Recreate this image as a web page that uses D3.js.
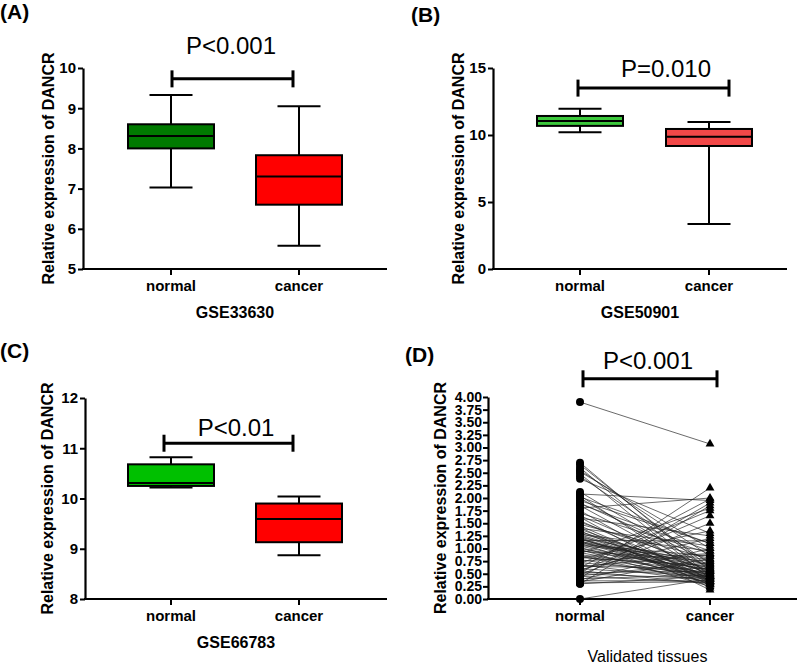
<!DOCTYPE html>
<html><head><meta charset="utf-8">
<script src="https://cdn.jsdelivr.net/npm/d3@7"></script>
<style>
body{margin:0;background:#fff}
svg{display:block}
text{font-family:"Liberation Sans",Arial,Helvetica,sans-serif;fill:#000}
</style>
</head><body>
<svg id="chart" width="800" height="665"></svg>
<script>
// ---------------- DATA ----------------
const categories = ["normal", "cancer"];
// box stats: [whiskerLow, q1, median, q3, whiskerHigh]
const boxA = [[7.03, 8.00, 8.31, 8.60, 9.33], [5.58, 6.60, 7.30, 7.83, 9.05]];
const boxB = [[10.20, 10.68, 11.04, 11.42, 11.95], [3.35, 9.18, 9.87, 10.45, 10.97]];
const boxC = [[10.22, 10.25, 10.31, 10.68, 10.82], [8.87, 9.13, 9.59, 9.90, 10.04]];
const ticksA = [5, 6, 7, 8, 9, 10];
const ticksB = [0, 5, 10, 15];
const ticksC = [8, 9, 10, 11, 12];
const ticksD = [0, 0.25, 0.5, 0.75, 1, 1.25, 1.5, 1.75, 2, 2.25, 2.5, 2.75, 3, 3.25, 3.5, 3.75, 4];
const panelLetters = ["(A)", "(B)", "(C)", "(D)"];
const pLabels = ["P<0.001", "P=0.010", "P<0.01", "P<0.001"];
const sigLevels = [9.73, 13.5, 11.1, 4.36];
const datasetLabels = ["GSE33630", "GSE50901", "GSE66783", "Validated tissues"];
const yTitle = "Relative expression of DANCR";
// paired validated tissues (normal -> cancer)
const pairedNormal = [3.90, 2.70, 2.66, 2.60, 2.55, 2.52, 2.48, 2.43, 2.38, 2.12,
  2.08, 2.05, 2.00, 1.95, 1.90, 1.85, 1.80, 1.75, 1.70, 1.65,
  1.60, 1.55, 1.52, 1.48, 1.45, 1.40, 1.38, 1.35, 1.30, 1.28,
  1.25, 1.22, 1.20, 1.18, 1.16, 1.15, 1.12, 1.10, 1.08, 1.05,
  1.02, 1.00, 0.98, 0.95, 0.92, 0.90, 0.88, 0.85, 0.82, 0.80,
  0.78, 0.75, 0.72, 0.70, 0.68, 0.65, 0.62, 0.60, 0.58, 0.56,
  0.55, 0.52, 0.50, 0.50, 0.48, 0.46, 0.45, 0.42, 0.40, 0.38,
  0.36, 0.34, 0.32, 0.30, 0.30, 0.00, 1.42, 1.62, 2.02, 1.27,
  1.14, 0.96, 1.88, 0.86, 1.06, 1.21, 1.13, 0.64, 1.33, 1.19];
const pairedCancer = [3.07, 0.55, 0.62, 0.45, 0.85, 1.00, 0.40, 0.70, 1.30, 0.60,
  1.95, 0.35, 0.50, 1.10, 0.75, 0.45, 2.00, 0.30, 0.90, 0.55,
  1.25, 0.40, 0.65, 0.80, 0.35, 1.05, 0.50, 0.28, 0.60, 0.95,
  0.45, 0.70, 0.38, 0.55, 1.15, 0.42, 0.62, 0.30, 0.85, 0.48,
  0.36, 0.58, 0.25, 0.75, 0.44, 1.80, 0.52, 0.33, 0.66, 1.35,
  0.40, 0.90, 0.50, 1.75, 0.35, 0.60, 1.98, 0.45, 1.20, 0.30,
  1.65, 0.55, 2.20, 0.40, 1.50, 0.72, 0.32, 1.90, 0.48, 1.00,
  0.36, 0.80, 0.34, 1.85, 0.45, 0.40, 0.18, 0.22, 1.10, 0.52,
  0.68, 0.58, 0.95, 0.42, 0.78, 0.47, 0.39, 0.88, 0.57, 0.43];

// ---------------- LAYOUT ----------------
const colorsA = ["#007a00", "#ff0000"];
const colorsB = ["#3cc83c", "#f24848"];
const colorsC = ["#00c000", "#ff0000"];
const FONT = '"Liberation Sans", Arial, Helvetica, sans-serif';

const panels = [
  {letter: [0, 19], x0: 83, x1: 387, yTop: 68, yBot: 269, xn: 171, xc: 299, domain: [5, 10], ticks: ticksA, fmt: d3.format("d"),
   box: boxA, colors: colorsA, titleX: 48, sig: [172, 293], pY: 54, pX: 231, dsY: 318, bold: true, tf: 15},
  {letter: [411, 22], x0: 493, x1: 787, yTop: 68, yBot: 269, xn: 580, xc: 709, domain: [0, 15], ticks: ticksB, fmt: d3.format("d"),
   box: boxB, colors: colorsB, titleX: 458, sig: [578, 729], pY: 77, pX: 666, dsY: 318, bold: true, tf: 15},
  {letter: [0, 358], x0: 85, x1: 387, yTop: 398, yBot: 599, xn: 171, xc: 299, domain: [8, 12], ticks: ticksC, fmt: d3.format("d"),
   box: boxC, colors: colorsC, titleX: 47, sig: [164, 293], pY: 436, pX: 236, dsY: 648, bold: true, tf: 15},
  {letter: [405, 362], x0: 488, x1: 797, yTop: 397, yBot: 599, xn: 580, xc: 710, domain: [0, 4], ticks: ticksD, fmt: d3.format(".2f"),
   box: null, colors: null, titleX: 440, sig: [583, 717], pY: 369, pX: 648, dsY: 662, bold: false, tf: 14}
];

const svg = d3.select("#chart");

panels.forEach((p, i) => {
  const g = svg.append("g");
  const y = d3.scaleLinear().domain(p.domain).range([p.yBot, p.yTop]);
  const x = d3.scalePoint().domain(categories).range([p.xn, p.xc]);

  // panel letter
  g.append("text").attr("x", p.letter[0]).attr("y", p.letter[1])
    .attr("font-size", 21).attr("font-weight", "bold").text(panelLetters[i]);

  // y axis
  const ya = g.append("g").attr("transform", `translate(${p.x0},0)`)
    .call(d3.axisLeft(y).tickValues(p.ticks).tickFormat(p.fmt).tickSize(5).tickSizeOuter(0).tickPadding(p.tf < 15 ? 1 : 2));
  ya.select(".domain").attr("stroke", "#000").attr("stroke-width", 2.2);
  ya.selectAll(".tick line").attr("stroke", "#000").attr("stroke-width", 2);
  ya.selectAll(".tick text").attr("font-size", p.tf).attr("font-weight", "bold")
    .attr("font-family", FONT).attr("fill", "#000");

  // x axis
  g.append("line").attr("x1", p.x0 - 1).attr("x2", p.x1).attr("y1", p.yBot).attr("y2", p.yBot)
    .attr("stroke", "#000").attr("stroke-width", 2.2);
  categories.forEach(c => {
    g.append("line").attr("x1", x(c)).attr("x2", x(c)).attr("y1", p.yBot).attr("y2", p.yBot + 6)
      .attr("stroke", "#000").attr("stroke-width", 2);
    g.append("text").attr("x", x(c)).attr("y", p.yBot + 22).attr("text-anchor", "middle")
      .attr("font-size", 15).attr("font-weight", "bold").text(c);
  });

  // y title
  g.append("text").attr("transform", `translate(${p.titleX},${(p.yTop + p.yBot) / 2}) rotate(-90)`)
    .attr("text-anchor", "middle").attr("dominant-baseline", "central")
    .attr("font-size", 16).attr("font-weight", "bold").text(yTitle);

  // dataset label
  g.append("text").attr("x", (p.x0 + p.x1) / 2 + (p.bold ? 0 : 5)).attr("y", p.dsY).attr("text-anchor", "middle")
    .attr("font-size", 16).attr("font-weight", p.bold ? "bold" : "normal").text(datasetLabels[i]);

  // boxes
  if (p.box) {
    const bw = 86, cw = 43;
    categories.forEach((c, k) => {
      const [lo, q1, med, q3, hi] = p.box[k];
      const cx = x(c);
      const bg = g.append("g").attr("stroke", "#000").attr("stroke-width", 2);
      bg.append("line").attr("x1", cx).attr("x2", cx).attr("y1", y(hi)).attr("y2", y(q3));
      bg.append("line").attr("x1", cx).attr("x2", cx).attr("y1", y(q1)).attr("y2", y(lo));
      bg.append("line").attr("x1", cx - cw / 2).attr("x2", cx + cw / 2).attr("y1", y(hi)).attr("y2", y(hi));
      bg.append("line").attr("x1", cx - cw / 2).attr("x2", cx + cw / 2).attr("y1", y(lo)).attr("y2", y(lo));
      bg.append("rect").attr("x", cx - bw / 2).attr("width", bw).attr("y", y(q3)).attr("height", y(q1) - y(q3))
        .attr("fill", p.colors[k]);
      bg.append("line").attr("x1", cx - bw / 2).attr("x2", cx + bw / 2).attr("y1", y(med)).attr("y2", y(med));
    });
  } else {
    // paired lines
    const lg = g.append("g");
    pairedNormal.forEach((v, k) => {
      lg.append("line").attr("x1", x("normal")).attr("y1", y(v))
        .attr("x2", x("cancer")).attr("y2", y(pairedCancer[k]))
        .attr("stroke", "#222").attr("stroke-width", 0.75).attr("stroke-opacity", 0.9);
    });
    g.append("g").selectAll("circle").data(pairedNormal).join("circle")
      .attr("cx", x("normal")).attr("cy", d => y(d)).attr("r", 4).attr("fill", "#000");
    g.append("g").selectAll("path").data(pairedCancer).join("path")
      .attr("d", d3.symbol().type(d3.symbolTriangle).size(34))
      .attr("transform", d => `translate(${x("cancer")},${y(d)})`).attr("fill", "#000");
  }

  // significance bar
  const sy = y(sigLevels[i]);
  const sg = g.append("g").attr("stroke", "#000").attr("stroke-width", 3);
  sg.append("line").attr("x1", p.sig[0]).attr("x2", p.sig[1]).attr("y1", sy).attr("y2", sy);
  sg.append("line").attr("x1", p.sig[0]).attr("x2", p.sig[0]).attr("y1", sy - 8.5).attr("y2", sy + 8.5);
  sg.append("line").attr("x1", p.sig[1]).attr("x2", p.sig[1]).attr("y1", sy - 8.5).attr("y2", sy + 8.5);
  g.append("text").attr("x", p.pX).attr("y", p.pY).attr("text-anchor", "middle")
    .attr("font-size", 24).text(pLabels[i]);
});
</script>
</body></html>
